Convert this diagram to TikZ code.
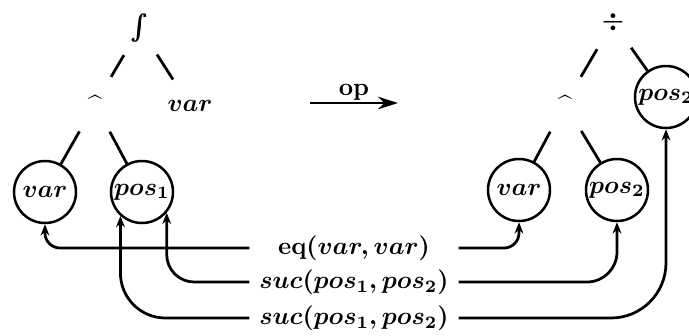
\documentclass[tikz,border=0pt]{standalone}
\usepackage{amsmath}
\usetikzlibrary{arrows.meta}

\tikzset{
  term/.style={circle,draw,line width=1pt,minimum size=24.8pt,inner sep=0pt},
  sym/.style={circle,minimum size=24.8pt,inner sep=0pt},
  cond/.style={minimum width=83.2pt,inner sep=0pt},
  branch/.style={line width=1.1pt},
  link/.style={line width=1.1pt,-{Stealth[length=4.5pt,width=3.5pt]}}
}

\begin{document}
\begin{tikzpicture}[x=0.4pt,y=0.4pt,every node/.append style={font=\bfseries\boldmath}]
    \useasboundingbox (0,0) rectangle (689,-335);
    % left tree
    \node[sym] (lint) at (140,-28) {$\pmb{\int}$};
    \node[sym] (lexp) at (95,-104) {\^{}};
    \node[sym] (lvar) at (190,-106) {$var$};
    \node[term] (lv) at (45,-192) {$var$};
    \node[term] (lp) at (142,-192) {$pos_1$};
    % right tree
    \node[sym] (rdiv) at (613,-22) {$\div$};
    \node[sym] (rexp) at (565,-104) {\^{}};
    \node[term] (rtop) at (666,-97) {$pos_2$};
    \node[term] (rv) at (519,-190) {$var$};
    \node[term] (rp) at (617,-190) {$pos_2$};
    \foreach \a/\b in {lint/lexp,lint/lvar,lexp/lv,lexp/lp,rdiv/rexp,rdiv/rtop,rexp/rv,rexp/rp}
      \draw[branch] (\a) -- (\b);
    % rewrite arrow
    \coordinate (opa) at (310,-103);
    \coordinate (opb) at (398,-103);
    \draw[line width=1.1pt,-{Stealth[length=8pt,width=5pt]}] (opa) -- (opb)
      node[midway,above,inner sep=0.5pt] (op) {op};
    % conditions
    \node[cond] (eq) at (354,-248) {eq$(var,var)$};
    \node[cond] (suca) at (354,-282) {$suc(pos_1,pos_2)$};
    \node[cond] (sucb) at (354,-318) {$suc(pos_1,pos_2)$};
    \draw[link,rounded corners=6pt] (eq.west) -| (lv.south);
    \draw[link,rounded corners=11pt] (suca.west) -| (lp.-40);
    \draw[link,rounded corners=18pt] (sucb.west) -| (lp.-132);
    \draw[link,rounded corners=6pt] (eq.east) -| (rv.south);
    \draw[link,rounded corners=12pt] (suca.east) -| (rp.south);
    \draw[link,rounded corners=22pt] (sucb.east) -| (rtop.south);
\end{tikzpicture}
\end{document}
